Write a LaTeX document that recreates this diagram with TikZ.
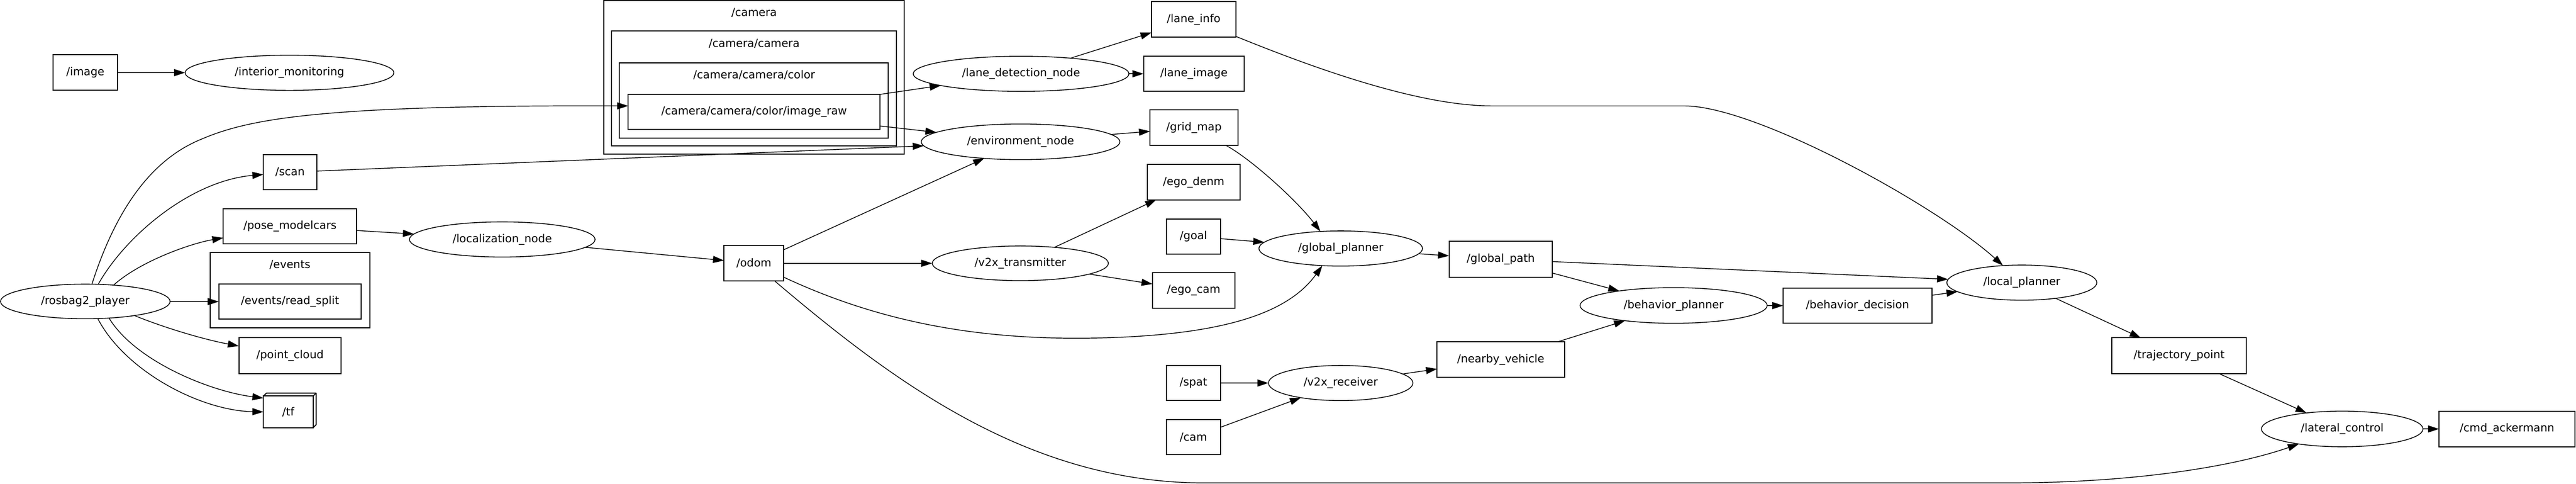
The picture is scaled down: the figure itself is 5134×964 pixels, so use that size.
\documentclass[tikz,border=0pt]{standalone}
\usepackage{fontspec}
\setmainfont{DejaVu Sans}
\usetikzlibrary{arrows.meta,shapes.geometric}
\begin{document}
\begin{tikzpicture}[x=1pt,y=-1pt,
  every node/.style={font=\fontsize{22}{26}\selectfont, inner sep=0pt, outer sep=0pt},
  topic/.style={draw, line width=2pt, rectangle, minimum height=71pt},
  proc/.style={draw, line width=1.6pt, ellipse, minimum height=70pt},
  cluster/.style={draw, line width=2pt},
  edge/.style={line width=1.5pt, -{Triangle[length=22pt,width=14pt]}}
]
\useasboundingbox (0,0) rectangle (5134,964);

% ---------- clusters ----------
\draw[cluster] (419,503) rectangle (737,653);
\node (eventslbl) at (578,527) {/events};
\draw[cluster] (1203,1.5) rectangle (1802,307);
\node (cameralbl) at (1503,25) {/camera};
\draw[cluster] (1219,62) rectangle (1787,291);
\node (cameracameralbl) at (1503,87) {/camera/camera};
\draw[cluster] (1234,125) rectangle (1770,275);
\node (colorlbl) at (1503,149) {/camera/camera/color};

% ---------- nodes ----------
\node[topic, minimum width=128pt] (image) at (170,144.5) {/image};
\node[proc, minimum width=416pt] (interior) at (577,145) {/interior\_monitoring};
\node[proc, minimum width=338pt, minimum height=69pt] (rosbag) at (170,600.5) {/rosbag2\_player};
\node[topic, minimum width=106pt, minimum height=70pt] (scan) at (578,343) {/scan};
\node[topic, minimum width=266pt, minimum height=70pt] (pose) at (578,451) {/pose\_modelcars};
\node[topic, minimum width=284pt, minimum height=70pt] (readsplit) at (578,601) {/events/read\_split};
\node[topic, minimum width=204pt] (pointcloud) at (578,708.5) {/point\_cloud};
\node[topic, minimum width=99pt, minimum height=63pt] (tf) at (574.5,820.5) {/tf};
\draw[line width=2pt, line join=round] (tf.north west) -- ([shift={(6,-6)}]tf.north west)
  -- ([shift={(6,-6)}]tf.north east) -- ([shift={(6,-6)}]tf.south east) -- (tf.south east);
\draw[line width=2pt] (tf.north east) -- ([shift={(6,-6)}]tf.north east);
\node[proc, minimum width=370pt] (localization) at (1001,477) {/localization\_node};
\node[topic, minimum width=119pt] (odom) at (1502.5,524.5) {/odom};
\node[topic, minimum width=502pt, minimum height=70pt] (imageraw) at (1503,223) {/camera/camera/color/image\_raw};
\node[proc, minimum width=430pt] (lanedet) at (2035,147) {/lane\_detection\_node};
\node[proc, minimum width=396pt, minimum height=71pt] (env) at (2034,282.5) {/environment\_node};
\node[topic, minimum width=168pt] (laneinfo) at (2379,38.5) {/lane\_info};
\node[topic, minimum width=201pt, minimum height=70pt] (laneimage) at (2379.5,147) {/lane\_image};
\node[topic, minimum width=175pt] (gridmap) at (2379.5,254.5) {/grid\_map};
\node[proc, minimum width=351pt, minimum height=69pt] (v2xtx) at (2033.5,524.5) {/v2x\_transmitter};
\node[topic, minimum width=184pt, minimum height=70pt] (egodenm) at (2379,363) {/ego\_denm};
\node[topic, minimum width=107pt, minimum height=70pt] (goal) at (2378.5,471) {/goal};
\node[topic, minimum width=164pt] (egocam) at (2379,578.5) {/ego\_cam};
\node[proc, minimum width=326pt] (globalplanner) at (2672,495) {/global\_planner};
\node[topic, minimum width=206pt] (globalpath) at (2991,516.5) {/global\_path};
\node[proc, minimum width=373pt, minimum height=71pt] (behplanner) at (3335.5,608.5) {/behavior\_planner};
\node[topic, minimum width=254pt] (nearby) at (2991,716.5) {/nearby\_vehicle};
\node[topic, minimum width=107pt, minimum height=70pt] (spat) at (2378.5,763) {/spat};
\node[topic, minimum width=107pt, minimum height=70pt] (cam) at (2378.5,871) {/cam};
\node[proc, minimum width=288pt] (v2xrx) at (2672,763) {/v2x\_receiver};
\node[topic, minimum width=296pt, minimum height=70pt] (behdec) at (3702,609) {/behavior\_decision};
\node[proc, minimum width=299pt] (localplanner) at (4029.5,563) {/local\_planner};
\node[topic, minimum width=268pt] (traj) at (4343,708.5) {/trajectory\_point};
\node[proc, minimum width=322pt, minimum height=71pt] (lateral) at (4668,854.5) {/lateral\_control};
\node[topic, minimum width=271pt] (cmd) at (4996.5,854.5) {/cmd\_ackermann};

% ---------- edges ----------
\draw[edge] (image) -- (interior);
\draw[edge] (rosbag.69) .. controls (230,420) and (300,318) .. (402,277)
  .. controls (500,235) and (650,209) .. ([yshift=12pt]imageraw.west);
\draw[edge] (rosbag.53) .. controls (250,470) and (380,360) .. (scan);
\draw[edge] (rosbag.30) .. controls (280,520) and (380,485) .. (pose);
\draw[edge] (rosbag) -- (readsplit);
\draw[edge] (rosbag.-16) .. controls (320,650) and (400,675) .. (pointcloud);
\draw[edge] (rosbag.-35) .. controls (270,720) and (420,780) .. ([yshift=-4pt]tf.north west);
\draw[edge] (rosbag.-54) .. controls (250,740) and (400,818) .. (tf.west);
\draw[edge] (scan) -- (env);
\draw[edge] (pose) -- (localization);
\draw[edge] (localization) -- (odom);
\draw[edge] (imageraw.north east) -- (lanedet);
\draw[edge] ([yshift=-28pt]imageraw.east) -- (env);
\draw[edge] (lanedet) -- (laneinfo);
\draw[edge] (lanedet) -- (laneimage);
\draw[edge] (env) -- (gridmap);
\draw[edge] (odom) -- (env);
\draw[edge] (odom) -- (v2xtx);
\draw[edge] (odom) .. controls (1750,640) and (1950,680) .. (2200,673)
  .. controls (2450,666) and (2570,620) .. (globalplanner.223);
\draw[edge] (odom) .. controls (1780,760) and (2050,962) .. (2400,962) -- (4000,962)
  .. controls (4250,962) and (4450,930) .. (lateral);
\draw[edge] (v2xtx) -- (egodenm);
\draw[edge] (v2xtx) -- (egocam);
\draw[edge] (goal) -- (globalplanner);
\draw[edge] (gridmap) .. controls (2495,318) and (2585,400) .. (globalplanner.140);
\draw[edge] (laneinfo) .. controls (2600,128) and (2820,211) .. (2974,211) -- (3357,211)
  .. controls (3500,211) and (3860,410) .. (localplanner);
\draw[edge] (globalplanner) -- (globalpath);
\draw[edge] (globalpath) -- (localplanner);
\draw[edge] (globalpath) -- (behplanner);
\draw[edge] (nearby) -- (behplanner);
\draw[edge] (behplanner) -- (behdec);
\draw[edge] (behdec) -- (localplanner);
\draw[edge] (localplanner) -- (traj);
\draw[edge] (traj) -- (lateral);
\draw[edge] (lateral) -- (cmd);
\draw[edge] (spat) -- (v2xrx);
\draw[edge] (cam) -- (v2xrx);
\draw[edge] (v2xrx) -- (nearby);
\end{tikzpicture}
\end{document}
